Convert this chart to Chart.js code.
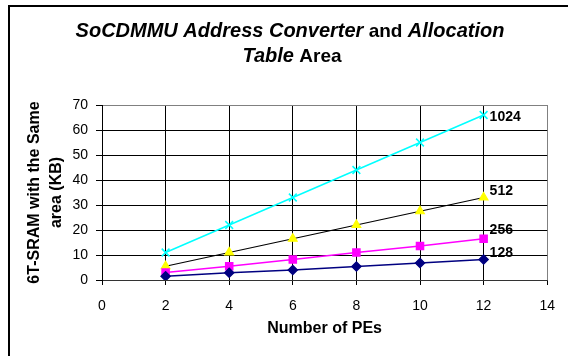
<!DOCTYPE html>
<html>
<head>
<meta charset="utf-8">
<script src="https://cdn.jsdelivr.net/npm/chart.js@4.4.1/dist/chart.umd.min.js"></script>
<style>
html,body{margin:0;padding:0;background:#fff;}
#wrap{width:568px;height:356px;position:relative;}
canvas{display:block;}
</style>
</head>
<body>
<div id="wrap"><canvas id="c" width="568" height="356"></canvas></div>
<script>
// ---- data ----
const pes = [2, 4, 6, 8, 10, 12];
const s128 = [1.5, 2.9, 4.0, 5.4, 6.8, 8.2];
const s256 = [3.0, 5.5, 8.2, 11.0, 13.6, 16.5];
const s512 = [5.5, 11.0, 16.5, 22.0, 27.5, 33.0];
const s1024 = [11.0, 22.0, 33.0, 44.0, 55.0, 66.0];
const seriesLabels = ['128', '256', '512', '1024'];
const titleLine1 = [['SoCDMMU Address Converter', true], [' and ', false], ['Allocation', true]];
const titleLine2 = [['Table', true], [' Area', false]];
const yTitle = ['6T-SRAM with the Same', 'area (KB)'];
const xTitle = 'Number of PEs';

const FONT = '"Liberation Sans", Arial, Helvetica, sans-serif';

function pts(arr) { return pes.map((x, i) => ({x: x, y: arr[i]})); }

const decor = {
  id: 'decor',
  afterDraw(chart) {
    const ctx = chart.ctx;
    ctx.save();
    // outer frame
    ctx.strokeStyle = '#000';
    ctx.lineWidth = 2;
    ctx.strokeRect(9, 6, 700, 500);
    // title
    ctx.fillStyle = '#000';
    ctx.textBaseline = 'alphabetic';
    function fontFor(p) { return (p[1] ? 'italic bold 20px ' : 'bold 19px ') + FONT; }
    function drawLine(parts, cx, baseY) {
      let total = 0;
      const widths = parts.map(p => {
        ctx.font = fontFor(p);
        const w = ctx.measureText(p[0]).width;
        total += w;
        return w;
      });
      let x = cx - total / 2;
      parts.forEach((p, i) => {
        ctx.font = fontFor(p);
        ctx.textAlign = 'left';
        ctx.fillText(p[0], x, baseY);
        x += widths[i];
      });
    }
    drawLine(titleLine1, 290, 37);
    drawLine(titleLine2, 292, 62);
    // data labels at last points
    const offs = chart.options.plugins.decor.offsets;
    ctx.font = 'bold 14px ' + FONT;
    ctx.textAlign = 'left';
    ctx.textBaseline = 'middle';
    chart.data.datasets.forEach((ds, di) => {
      const meta = chart.getDatasetMeta(di);
      const last = meta.data[meta.data.length - 1];
      const o = offs[ds.label];
      ctx.fillText(ds.label, last.x + 6, last.y + o);
    });
    ctx.restore();
  }
};

new Chart(document.getElementById('c'), {
  type: 'line',
  data: {
    datasets: [
      {label: seriesLabels[0], data: pts(s128), borderColor: '#000080', backgroundColor: '#000080',
       pointStyle: 'rectRot', pointRadius: 4.5, pointBorderColor: '#000080', pointBackgroundColor: '#000080', borderWidth: 1.5},
      {label: seriesLabels[1], data: pts(s256), borderColor: '#FF00FF', backgroundColor: '#FF00FF',
       pointStyle: 'rect', pointRadius: 5, pointBorderColor: '#FF00FF', pointBackgroundColor: '#FF00FF', borderWidth: 1.5},
      {label: seriesLabels[2], data: pts(s512), borderColor: '#000000', backgroundColor: '#FFFF00',
       pointStyle: 'triangle', pointRadius: 5, pointBorderColor: '#FFFF00', pointBackgroundColor: '#FFFF00', borderWidth: 1.2},
      {label: seriesLabels[3], data: pts(s1024), borderColor: '#00FFFF', backgroundColor: '#00FFFF',
       pointStyle: 'crossRot', pointRadius: 5.5, pointBorderColor: '#00FFFF', pointBorderWidth: 1.5, borderWidth: 1.5}
    ]
  },
  options: {
    responsive: false,
    animation: false,
    devicePixelRatio: 1,
    layout: {padding: {left: 0, right: 19, top: 105, bottom: 0}},
    plugins: {
      legend: {display: false},
      tooltip: {enabled: false},
      title: {display: false},
      decor: {offsets: {'128': -6, '256': -9, '512': -6, '1024': 2}}
    },
    elements: {line: {tension: 0, fill: false}},
    scales: {
      x: {
        type: 'linear', min: 0, max: 14,
        ticks: {stepSize: 2, color: '#000', font: {family: FONT, size: 14}, padding: 13, maxRotation: 0},
        grid: {color: ctx => (ctx.tick && ctx.tick.value === 14) ? '#808080' : '#000', lineWidth: 1, tickLength: 5, tickColor: '#000', drawTicks: true},
        border: {color: '#333', width: 1},
        title: {display: true, text: xTitle, color: '#000', font: {family: FONT, size: 16, weight: 'bold', lineHeight: 1.2}, padding: {top: 0, bottom: 18}},
        afterFit(s) { s.height = 76; }
      },
      y: {
        min: 0, max: 70,
        ticks: {stepSize: 10, color: '#000', font: {family: FONT, size: 14}, padding: 8},
        grid: {color: ctx => (ctx.tick && ctx.tick.value === 70) ? '#808080' : '#000', lineWidth: 1, tickLength: 6, tickColor: '#000'},
        border: {color: '#000', width: 1},
        title: {display: true, text: yTitle, color: '#000', font: {family: FONT, size: 16, weight: 'bold', lineHeight: 1.35}, padding: {top: 24, bottom: 0}},
        afterFit(s) { s.width = 102; }
      }
    }
  },
  plugins: [decor]
});
</script>
</body>
</html>
